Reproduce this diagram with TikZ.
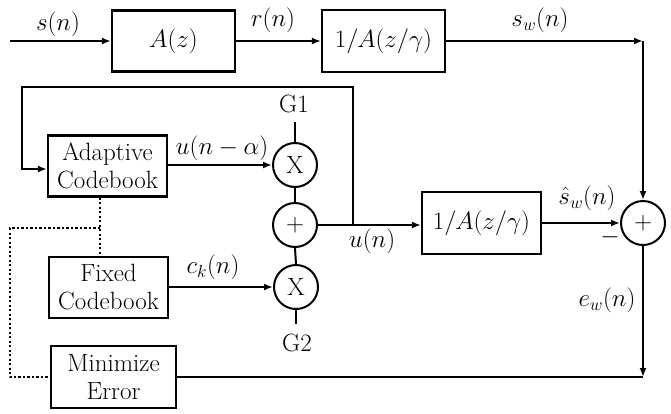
\RequirePackage{fix-cm}
\documentclass[tikz,border=0pt]{standalone}
\usetikzlibrary{arrows.meta}
\begin{document}
\begin{tikzpicture}[x=1pt,y=-1pt,
  every node/.style={font=\fontsize{25}{28}\selectfont, inner sep=0pt},
  blk/.style={draw, line width=2.2pt, align=center, minimum width=119pt, minimum height=61pt},
  circ/.style={draw, circle, line width=2pt, minimum size=44pt},
  ln/.style={line width=2pt},
  arr/.style={line width=2pt, -{Latex[length=9pt,width=7pt]}},
  dots/.style={line width=2.2pt, dash pattern=on 2.2pt off 2.3pt}]
\useasboundingbox (0,0) rectangle (671,413);
% boxes
\node[blk, minimum width=123pt] (A) at (173.5,41) {$A(z)$};
\node[blk, minimum width=123pt, minimum height=62pt] (W1) at (383.5,41) {$1/A(z/\gamma)$};
\node[blk] (AC) at (107.5,166) {Adaptive\\Codebook};
\node[blk] (FC) at (108.5,287.5) {Fixed\\Codebook};
\node[blk, minimum width=125pt, minimum height=62pt] (ME) at (113.5,377) {Minimize\\Error};
\node[blk, minimum height=62pt] (W2) at (481.5,223) {$1/A(z/\gamma)$};
% circles
\node[circ] (X1) at (295,165) {X};
\node[circ] (P) at (295,225) {+};
\node[circ] (X2) at (296,287) {X};
\node[circ] (S) at (643,223) {+};
% gain labels
\node (G1) at (294,104) {G1};
\node (G2) at (297,343) {G2};
\coordinate (g1) at (295,122);
\coordinate (g2) at (296,324);
% coordinates
\coordinate (in) at (10,41);
\coordinate (c1) at (643,41);
\coordinate (J) at (353,225);
\coordinate (fbR) at (353,87);
\coordinate (fbL) at (22,87);
\coordinate (fbD) at (22,169);
\coordinate (d1) at (100,228);
\coordinate (d2) at (10,228);
\coordinate (d3) at (10,377);
\coordinate (c2) at (643,377);
% top path
\draw[arr] (in) -- (A.west);
\draw[arr] (A.east) -- (W1.west);
\draw[arr] (W1.east) -- (c1);
\draw[arr] (c1) -- (S.north);
% codebooks
\draw[arr] (AC.east |- X1.west) -- (X1.west);
\draw[arr] (FC.east |- X2.west) -- (X2.west);
\draw[ln] (g1) -- (X1.north);
\draw[ln] (X2.south) -- (g2);
\draw[ln] (X1.south) -- (P.north);
\draw[ln] (P.south) -- (X2.north);
% excitation and feedback
\draw[ln] (P.east) -- (J);
\draw[arr] (J) -- (J -| W2.west);
\draw[arr] (J) -- (fbR) -- (fbL) -- (fbD) -- (fbD -| AC.west);
\draw[arr] (W2.east |- S.west) -- (S.west);
% error
\draw[arr] (S.south) -- (c2);
\draw[ln] (c2) -- (c2 -| ME.east);
% dotted control
\draw[dots] (d1 |- AC.south) -- (d1 |- FC.north);
\draw[dots] (d1) -- (d2) -- (d3) -- (ME.west);
% signal labels
\node at (58,24) {$s(n)$};
\node at (273,20) {$r(n)$};
\node at (540,20) {$s_w(n)$};
\node at (222,148) {$u(n-\alpha)$};
\node at (213,267) {$c_k(n)$};
\node at (372,241) {$u(n)$};
\node at (587,198) {$\hat{s}_w(n)$};
\node at (610,237) {$-$};
\node at (607,300) {$e_w(n)$};
\end{tikzpicture}
\end{document}
